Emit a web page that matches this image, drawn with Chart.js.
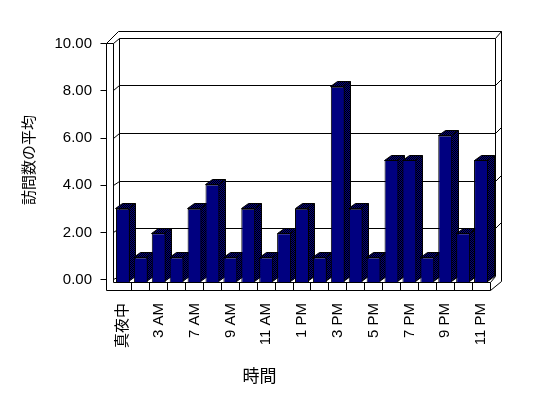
<!DOCTYPE html>
<html>
<head>
<meta charset="utf-8">
<script src="https://cdn.jsdelivr.net/npm/chart.js@4.4.1/dist/chart.umd.min.js"></script>
<style>
body { margin: 0; background: #fff; }
#wrap { width: 548px; height: 398px; }
</style>
</head>
<body>
<div id="wrap"><canvas id="visitsChart" width="548" height="398"></canvas></div>
<script>
const hours = ['真夜中', '1 AM', '3 AM', '5 AM', '7 AM', '8 AM', '9 AM', '10 AM', '11 AM', '12 PM', '1 PM',
    '2 PM', '3 PM', '4 PM', '5 PM', '6 PM', '7 PM', '8 PM', '9 PM', '10 PM', '11 PM'];
const visits = [3, 1, 2, 1, 3, 4, 1, 3, 1, 2, 3, 1, 8, 3, 1, 5, 5, 1, 6, 2, 5];
const yTicks = [0, 2, 4, 6, 8, 10];

// depth of the bars (fake 3d)
const DX = 7;
const DY = 5;

// checker pattern for the bar sides
const pc = document.createElement('canvas');
pc.width = 2;
pc.height = 2;
const pctx = pc.getContext('2d');
pctx.fillStyle = '#000080';
pctx.fillRect(0, 0, 2, 2);
pctx.fillStyle = '#000000';
pctx.fillRect(0, 0, 1, 1);
pctx.fillRect(1, 1, 1, 1);

function line(ctx, x1, y1, x2, y2) {
    ctx.beginPath();
    ctx.moveTo(x1, y1);
    ctx.lineTo(x2, y2);
    ctx.stroke();
}

const frame3d = {
    id: 'frame3d',
    beforeDatasetsDraw(chart) {
        const { ctx, chartArea: a, scales } = chart;
        const { x, yFront, yBack } = scales;
        const px = (v) => Math.floor(v) + 0.5;

        const wallOut = px(a.left - 8);
        const wallIn = px(a.left - 1);
        const backL = px(a.left + 5);
        const backR = px(a.right + 5);
        const outR = px(a.right + 11);
        const topOut = px(a.top - 7);
        const topIn = px(a.top);
        const wallTop = px(yFront.getPixelForValue(10));
        const floorTop = px(a.bottom);
        const floorBot = px(a.bottom + 8);
        const floorBack = px(yBack.getPixelForValue(0));
        const right = px(a.right);

        ctx.save();
        ctx.strokeStyle = '#000';
        ctx.lineWidth = 1;

        // back wall grid
        for (const v of yTicks) {
            const yb = px(yBack.getPixelForValue(v));
            const yf = px(yFront.getPixelForValue(v));
            if (v > 0 && v < 10) {
                line(ctx, backL, yb, backR, yb);
                line(ctx, backR, yb, outR, yb - 6);
            }
            if (v < 10) line(ctx, wallIn, yf, backL, yb);
            // tick marks
            line(ctx, wallOut - 6, yf, wallOut, yf);
        }

        // walls
        line(ctx, wallOut, wallTop, wallOut, floorBot);
        line(ctx, wallIn, wallTop, wallIn, floorTop);
        line(ctx, backL, topIn, backL, floorBack);
        line(ctx, wallOut, wallTop, wallIn, wallTop);
        line(ctx, wallOut, wallTop, backL - 1, topOut);
        line(ctx, wallIn, wallTop, backL, topIn);
        line(ctx, backL - 1, topOut, outR, topOut);
        line(ctx, backL, topIn, backR, topIn);
        line(ctx, backR, topIn, outR, topOut);
        line(ctx, backR, topIn, backR, floorBack);
        line(ctx, outR, topOut, outR, floorTop - 1);

        // floor
        line(ctx, wallIn, floorTop, right, floorTop);
        line(ctx, wallOut, floorBot, right, floorBot);
        line(ctx, right, floorTop, right, floorBot);
        line(ctx, right, floorBot, outR, floorTop - 1);
        line(ctx, right, floorTop, backR, floorBack);
        const step = (x.right - x.left) / hours.length;
        for (let i = 1; i < hours.length; i++) {
            const xx = px(x.left + i * step);
            line(ctx, xx, floorTop, xx, floorBot);
        }

        // bar tops and sides, drawn before the fronts so the next bar covers them
        const pat = ctx.createPattern(pc, 'repeat');
        const meta = chart.getDatasetMeta(0);
        for (const bar of meta.data) {
            const { x: cx, y: top, base, width } = bar.getProps(['x', 'y', 'base', 'width'], true);
            const l = px(cx - width / 2);
            const r = px(cx + width / 2) - 1;
            const t = px(top);
            const b = px(base) - 1;
            ctx.beginPath();
            ctx.moveTo(l, t);
            ctx.lineTo(l + DX, t - DY);
            ctx.lineTo(r + DX, t - DY);
            ctx.lineTo(r + DX, b - DY);
            ctx.lineTo(r, b);
            ctx.lineTo(r, t);
            ctx.closePath();
            ctx.fillStyle = pat;
            ctx.fill();
            ctx.stroke();
            line(ctx, r, t, r + DX, t - DY);
        }
        ctx.restore();
    }
};

Chart.defaults.font.family = "'Liberation Sans', 'Noto Sans CJK JP', sans-serif";
Chart.defaults.color = '#000';

const ctx = document.getElementById('visitsChart').getContext('2d');
const visitsChart = new Chart(ctx, {
    type: 'bar',
    data: {
        labels: hours,
        datasets: [{
            data: visits,
            yAxisID: 'y',
            backgroundColor: '#000080',
            borderColor: '#000000',
            borderWidth: 1,
            barPercentage: 0.78,
            categoryPercentage: 1
        }]
    },
    options: {
        responsive: false,
        animation: false,
        layout: { padding: { top: 38, right: 58, left: 0, bottom: 0 } },
        plugins: {
            legend: { display: false },
            tooltip: { enabled: false }
        },
        scales: {
            x: {
                grid: { display: false, drawTicks: false },
                border: { display: false },
                ticks: {
                    autoSkip: false,
                    minRotation: 90,
                    maxRotation: 90,
                    padding: 21,
                    font: { size: 15 },
                    callback: (val, i) => (i % 2 === 0 ? hours[i] : '')
                },
                title: {
                    display: true,
                    text: '時間\u3000\u3000\u3000\u3000\u3000',
                    font: { size: 17, family: "'Noto Sans CJK JP'" },
                    padding: { top: 0, bottom: 12 }
                },
                afterFit(scale) { scale.height = 116; }
            },
            y: {
                display: false,
                min: 0,
                max: 10
            },
            yBack: {
                display: false,
                min: -0.222,
                max: 10
            },
            yFront: {
                position: 'left',
                min: -0.098,
                max: 10.242,
                grid: { display: false, drawTicks: false },
                border: { display: false },
                afterBuildTicks(scale) {
                    scale.ticks = yTicks.map(v => ({ value: v }));
                },
                ticks: {
                    padding: 22,
                    font: { size: 15 },
                    callback: (val) => Number(val).toFixed(2)
                },
                title: {
                    display: true,
                    text: '訪問数の平均',
                    font: { size: 15, family: "'Noto Sans CJK JP'" },
                    padding: { top: 19, bottom: 0 }
                },
                afterFit(scale) { scale.width = 114; }
            }
        }
    },
    plugins: [frame3d]
});
</script>
</body>
</html>
